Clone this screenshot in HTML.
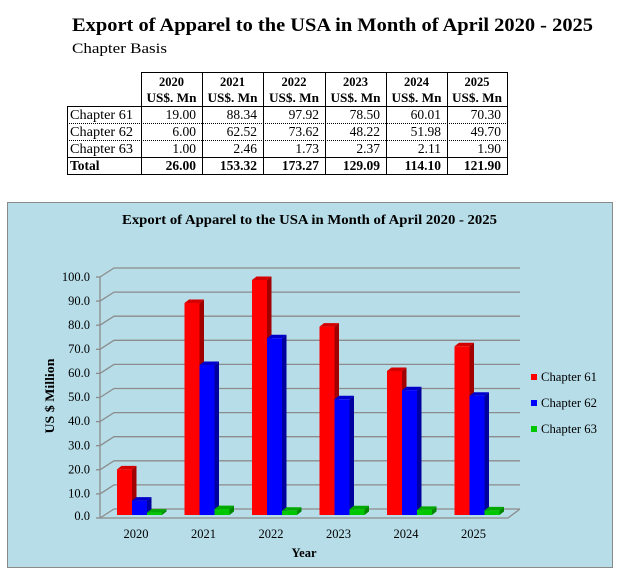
<!DOCTYPE html>
<html><head><meta charset="utf-8"><style>
html,body{margin:0;padding:0;background:#fff;}
svg{display:block;}
text{font-family:"Liberation Serif",serif;fill:#000;}
.r0{fill:#FF0000}.r1{fill:#D40000}.r2{fill:#A00000}
.b0{fill:#0000FF}.b1{fill:#0000CC}.b2{fill:#00009E}
.g0{fill:#00C800}.g1{fill:#00A800}.g2{fill:#008800}
</style></head><body>
<svg width="636" height="581" viewBox="0 0 636 581" xmlns="http://www.w3.org/2000/svg">
<!-- Titles -->
<text x="72" y="31" font-size="19" font-weight="bold" textLength="521" lengthAdjust="spacingAndGlyphs">Export of Apparel to the USA in Month of April 2020 - 2025</text>
<text x="72" y="53" font-size="14.5" textLength="95" lengthAdjust="spacingAndGlyphs">Chapter Basis</text>

<!-- Table -->
<g stroke="#000" stroke-width="1" fill="none" shape-rendering="crispEdges">
  <line x1="141" y1="72.5" x2="507" y2="72.5"/>
  <line x1="67" y1="106.5" x2="507" y2="106.5"/>
  <line x1="67" y1="123.5" x2="507" y2="123.5" stroke-dasharray="1,1"/>
  <line x1="67" y1="140.5" x2="507" y2="140.5" stroke-dasharray="1,1"/>
  <line x1="67" y1="157.5" x2="507" y2="157.5"/>
  <line x1="67" y1="174.5" x2="507" y2="174.5"/>
  <line x1="67.5" y1="106" x2="67.5" y2="175"/>
  <line x1="141.5" y1="72" x2="141.5" y2="175"/>
  <line x1="202.5" y1="72" x2="202.5" y2="175"/>
  <line x1="263.5" y1="72" x2="263.5" y2="175"/>
  <line x1="325.5" y1="72" x2="325.5" y2="175"/>
  <line x1="386.5" y1="72" x2="386.5" y2="175"/>
  <line x1="447.5" y1="72" x2="447.5" y2="175"/>
  <line x1="507.5" y1="72" x2="507.5" y2="175"/>
</g>
<g font-size="12.5" font-weight="bold" text-anchor="middle">
  <text x="171.5" y="86">2020</text><text x="232.5" y="86">2021</text><text x="294" y="86">2022</text>
  <text x="355.5" y="86">2023</text><text x="416.5" y="86">2024</text><text x="477" y="86">2025</text>
  <text x="171.5" y="102" textLength="50" lengthAdjust="spacingAndGlyphs">US$. Mn</text>
  <text x="232.5" y="102" textLength="50" lengthAdjust="spacingAndGlyphs">US$. Mn</text>
  <text x="294" y="102" textLength="50" lengthAdjust="spacingAndGlyphs">US$. Mn</text>
  <text x="355.5" y="102" textLength="50" lengthAdjust="spacingAndGlyphs">US$. Mn</text>
  <text x="416.5" y="102" textLength="50" lengthAdjust="spacingAndGlyphs">US$. Mn</text>
  <text x="477" y="102" textLength="50" lengthAdjust="spacingAndGlyphs">US$. Mn</text>
</g>
<g font-size="13.5">
  <text x="70" y="119" textLength="63" lengthAdjust="spacingAndGlyphs">Chapter 61</text>
  <text x="70" y="136" textLength="63" lengthAdjust="spacingAndGlyphs">Chapter 62</text>
  <text x="70" y="153" textLength="63" lengthAdjust="spacingAndGlyphs">Chapter 63</text>
  <text x="70" y="170" font-weight="bold">Total</text>
</g>
<g font-size="13.5" text-anchor="end">
  <text x="196" y="119">19.00</text><text x="257" y="119">88.34</text><text x="319" y="119">97.92</text><text x="380" y="119">78.50</text><text x="441" y="119">60.01</text><text x="501" y="119">70.30</text>
  <text x="196" y="136">6.00</text><text x="257" y="136">62.52</text><text x="319" y="136">73.62</text><text x="380" y="136">48.22</text><text x="441" y="136">51.98</text><text x="501" y="136">49.70</text>
  <text x="196" y="153">1.00</text><text x="257" y="153">2.46</text><text x="319" y="153">1.73</text><text x="380" y="153">2.37</text><text x="441" y="153">2.11</text><text x="501" y="153">1.90</text>
  <g font-weight="bold">
  <text x="196" y="170">26.00</text><text x="257" y="170">153.32</text><text x="319" y="170">173.27</text><text x="380" y="170">129.09</text><text x="441" y="170">114.10</text><text x="501" y="170">121.90</text>
  </g>
</g>

<!-- Chart -->
<rect x="7.5" y="202.5" width="605" height="365" fill="#B7DDE8" stroke="#8a8a8a" stroke-width="1"/>
<text x="122" y="224" font-size="13.5" font-weight="bold" textLength="375" lengthAdjust="spacingAndGlyphs">Export of Apparel to the USA in Month of April 2020 - 2025</text>

<g stroke="#8c8c8c" stroke-width="1.3" fill="none">
  <polyline points="100,518 114,509 520,509"/>
  <polyline points="100,493.9 114,484.9 520,484.9"/>
  <polyline points="100,469.8 114,460.8 520,460.8"/>
  <polyline points="100,445.7 114,436.7 520,436.7"/>
  <polyline points="100,421.6 114,412.6 520,412.6"/>
  <polyline points="100,397.5 114,388.5 520,388.5"/>
  <polyline points="100,373.4 114,364.4 520,364.4"/>
  <polyline points="100,349.3 114,340.3 520,340.3"/>
  <polyline points="100,325.2 114,316.2 520,316.2"/>
  <polyline points="100,301.1 114,292.1 520,292.1"/>
  <polyline points="100,277 114,268 520,268"/>
  <line x1="100" y1="277" x2="100" y2="518"/>
  <polyline points="100,518 508,518 520,509"/>
  <line x1="96" y1="518" x2="100" y2="518"/>
  <line x1="96" y1="493.9" x2="100" y2="493.9"/>
  <line x1="96" y1="469.8" x2="100" y2="469.8"/>
  <line x1="96" y1="445.7" x2="100" y2="445.7"/>
  <line x1="96" y1="421.6" x2="100" y2="421.6"/>
  <line x1="96" y1="397.5" x2="100" y2="397.5"/>
  <line x1="96" y1="373.4" x2="100" y2="373.4"/>
  <line x1="96" y1="349.3" x2="100" y2="349.3"/>
  <line x1="96" y1="325.2" x2="100" y2="325.2"/>
  <line x1="96" y1="301.1" x2="100" y2="301.1"/>
  <line x1="96" y1="277" x2="100" y2="277"/>
</g>
<g font-size="12.5" text-anchor="end">
  <text x="90" y="520">0.0</text>
  <text x="90" y="497.5">10.0</text>
  <text x="90" y="473.5">20.0</text>
  <text x="90" y="449.5">30.0</text>
  <text x="90" y="425">40.0</text>
  <text x="90" y="401">50.0</text>
  <text x="90" y="377">60.0</text>
  <text x="90" y="353">70.0</text>
  <text x="90" y="329">80.0</text>
  <text x="90" y="305">90.0</text>
  <text x="90" y="281">100.0</text>
</g>
<text transform="translate(54,396) rotate(-90)" font-size="12.5" font-weight="bold" text-anchor="middle" textLength="75" lengthAdjust="spacingAndGlyphs">US $ Million</text>

<!-- Bars: 2020 -->
<g transform="translate(117,0)">
  <polygon class="r2" points="15,469.4 19.5,465.9 19.5,511.5 15,515"/>
  <polygon class="r1" points="0,469.4 4.5,465.9 19.5,465.9 15,469.4"/>
  <rect class="r0" x="0" y="469.4" width="15" height="45.6"/>
</g>
<g transform="translate(132,0)">
  <polygon class="b2" points="15,500.6 19.5,497.1 19.5,511.5 15,515"/>
  <polygon class="b1" points="0,500.6 4.5,497.1 19.5,497.1 15,500.6"/>
  <rect class="b0" x="0" y="500.6" width="15" height="14.4"/>
</g>
<g transform="translate(147,0)">
  <polygon class="g2" points="15,512.6 19.5,509.1 19.5,511.5 15,515"/>
  <polygon class="g1" points="0,512.6 4.5,509.1 19.5,509.1 15,512.6"/>
  <rect class="g0" x="0" y="512.6" width="15" height="2.4"/>
</g>
<!-- 2021 -->
<g transform="translate(184.5,0)">
  <polygon class="r2" points="15,303 19.5,299.5 19.5,511.5 15,515"/>
  <polygon class="r1" points="0,303 4.5,299.5 19.5,299.5 15,303"/>
  <rect class="r0" x="0" y="303" width="15" height="212"/>
</g>
<g transform="translate(199.5,0)">
  <polygon class="b2" points="15,365 19.5,361.5 19.5,511.5 15,515"/>
  <polygon class="b1" points="0,365 4.5,361.5 19.5,361.5 15,365"/>
  <rect class="b0" x="0" y="365" width="15" height="150"/>
</g>
<g transform="translate(214.5,0)">
  <polygon class="g2" points="15,509.1 19.5,505.6 19.5,511.5 15,515"/>
  <polygon class="g1" points="0,509.1 4.5,505.6 19.5,505.6 15,509.1"/>
  <rect class="g0" x="0" y="509.1" width="15" height="5.9"/>
</g>
<!-- 2022 -->
<g transform="translate(252,0)">
  <polygon class="r2" points="15,280 19.5,276.5 19.5,511.5 15,515"/>
  <polygon class="r1" points="0,280 4.5,276.5 19.5,276.5 15,280"/>
  <rect class="r0" x="0" y="280" width="15" height="235"/>
</g>
<g transform="translate(267,0)">
  <polygon class="b2" points="15,338.3 19.5,334.8 19.5,511.5 15,515"/>
  <polygon class="b1" points="0,338.3 4.5,334.8 19.5,334.8 15,338.3"/>
  <rect class="b0" x="0" y="338.3" width="15" height="176.7"/>
</g>
<g transform="translate(282,0)">
  <polygon class="g2" points="15,510.8 19.5,507.3 19.5,511.5 15,515"/>
  <polygon class="g1" points="0,510.8 4.5,507.3 19.5,507.3 15,510.8"/>
  <rect class="g0" x="0" y="510.8" width="15" height="4.2"/>
</g>
<!-- 2023 -->
<g transform="translate(319.5,0)">
  <polygon class="r2" points="15,326.6 19.5,323.1 19.5,511.5 15,515"/>
  <polygon class="r1" points="0,326.6 4.5,323.1 19.5,323.1 15,326.6"/>
  <rect class="r0" x="0" y="326.6" width="15" height="188.4"/>
</g>
<g transform="translate(334.5,0)">
  <polygon class="b2" points="15,399.3 19.5,395.8 19.5,511.5 15,515"/>
  <polygon class="b1" points="0,399.3 4.5,395.8 19.5,395.8 15,399.3"/>
  <rect class="b0" x="0" y="399.3" width="15" height="115.7"/>
</g>
<g transform="translate(349.5,0)">
  <polygon class="g2" points="15,509.3 19.5,505.8 19.5,511.5 15,515"/>
  <polygon class="g1" points="0,509.3 4.5,505.8 19.5,505.8 15,509.3"/>
  <rect class="g0" x="0" y="509.3" width="15" height="5.7"/>
</g>
<!-- 2024 -->
<g transform="translate(387,0)">
  <polygon class="r2" points="15,371 19.5,367.5 19.5,511.5 15,515"/>
  <polygon class="r1" points="0,371 4.5,367.5 19.5,367.5 15,371"/>
  <rect class="r0" x="0" y="371" width="15" height="144"/>
</g>
<g transform="translate(402,0)">
  <polygon class="b2" points="15,390.2 19.5,386.7 19.5,511.5 15,515"/>
  <polygon class="b1" points="0,390.2 4.5,386.7 19.5,386.7 15,390.2"/>
  <rect class="b0" x="0" y="390.2" width="15" height="124.8"/>
</g>
<g transform="translate(417,0)">
  <polygon class="g2" points="15,509.9 19.5,506.4 19.5,511.5 15,515"/>
  <polygon class="g1" points="0,509.9 4.5,506.4 19.5,506.4 15,509.9"/>
  <rect class="g0" x="0" y="509.9" width="15" height="5.1"/>
</g>
<!-- 2025 -->
<g transform="translate(454.5,0)">
  <polygon class="r2" points="15,346.3 19.5,342.8 19.5,511.5 15,515"/>
  <polygon class="r1" points="0,346.3 4.5,342.8 19.5,342.8 15,346.3"/>
  <rect class="r0" x="0" y="346.3" width="15" height="168.7"/>
</g>
<g transform="translate(469.5,0)">
  <polygon class="b2" points="15,395.7 19.5,392.2 19.5,511.5 15,515"/>
  <polygon class="b1" points="0,395.7 4.5,392.2 19.5,392.2 15,395.7"/>
  <rect class="b0" x="0" y="395.7" width="15" height="119.3"/>
</g>
<g transform="translate(484.5,0)">
  <polygon class="g2" points="15,510.4 19.5,506.9 19.5,511.5 15,515"/>
  <polygon class="g1" points="0,510.4 4.5,506.9 19.5,506.9 15,510.4"/>
  <rect class="g0" x="0" y="510.4" width="15" height="4.6"/>
</g>

<g font-size="12.5" text-anchor="middle">
  <text x="136" y="538">2020</text>
  <text x="203.5" y="538">2021</text>
  <text x="271" y="538">2022</text>
  <text x="338.5" y="538">2023</text>
  <text x="406" y="538">2024</text>
  <text x="473.5" y="538">2025</text>
</g>
<text x="304" y="557" font-size="12.5" font-weight="bold" text-anchor="middle">Year</text>

<!-- Legend -->
<rect x="531" y="374" width="6" height="6" fill="#FF0000"/>
<rect x="531" y="400" width="6" height="6" fill="#0000FF"/>
<rect x="531" y="426" width="6" height="6" fill="#00C800"/>
<g font-size="12.5">
  <text x="541" y="381" textLength="56" lengthAdjust="spacingAndGlyphs">Chapter 61</text>
  <text x="541" y="407" textLength="56" lengthAdjust="spacingAndGlyphs">Chapter 62</text>
  <text x="541" y="433" textLength="56" lengthAdjust="spacingAndGlyphs">Chapter 63</text>
</g>
</svg>
</body></html>
